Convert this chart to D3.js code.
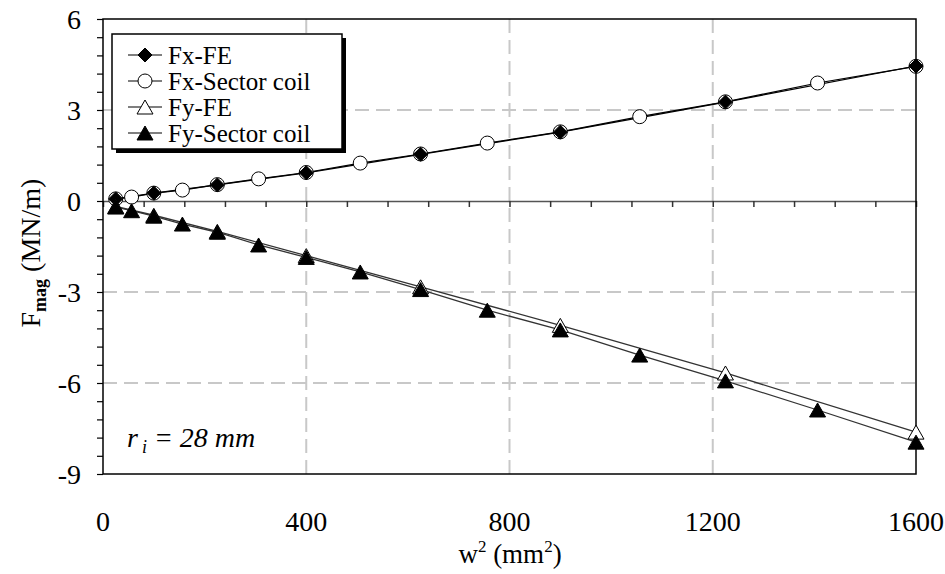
<!DOCTYPE html>
<html>
<head>
<meta charset="utf-8">
<script src="https://cdn.jsdelivr.net/npm/d3@7"></script>
<style>
  @font-face { font-family: "ChartSerif"; src: local("Liberation Serif"), local("LiberationSerif"), local("LiberationSerif-Regular"); }
  @font-face { font-family: "ChartSerif"; font-style: italic; src: local("Liberation Serif Italic"), local("LiberationSerif-Italic"); }
  @font-face { font-family: "ChartSerif"; font-weight: bold; src: local("Liberation Serif Bold"), local("LiberationSerif-Bold"); }
  body { margin: 0; background: #fff; }
</style>
</head>
<body>
<div id="plot"></div>
<script>
// ---- data ----
const wFE = [25, 100, 225, 400, 625, 900, 1225, 1600];
const wSector = [25, 56.25, 100, 156.25, 225, 306.25, 400, 506.25, 625, 756.25, 900, 1056.25, 1225, 1406.25, 1600];
const fxFE = [0.07, 0.26, 0.53, 0.93, 1.54, 2.27, 3.26, 4.45];
const fxSector = [0.07, 0.13, 0.26, 0.36, 0.54, 0.73, 0.94, 1.25, 1.55, 1.91, 2.28, 2.78, 3.27, 3.89, 4.44];
const fyFE = [-0.18, -0.47, -1.0, -1.8, -2.83, -4.1, -5.67, -7.62];
const fySector = [-0.2, -0.32, -0.5, -0.76, -1.03, -1.45, -1.86, -2.34, -2.92, -3.6, -4.25, -5.08, -5.93, -6.89, -7.95];
const seriesNames = ["Fx-FE", "Fx-Sector coil", "Fy-FE", "Fy-Sector coil"];
const xTicks = [0, 400, 800, 1200, 1600];
const yTicks = [-9, -6, -3, 0, 3, 6];
const xGrid = [400, 800, 1200];
const yGrid = [3, -3, -6];

const w = 945, h = 574;
const plotL = 103, plotR = 916, plotT = 19, plotB = 474;
const fontList = "'Liberation Serif', ChartSerif, Tinos, 'Times New Roman', serif";

const xScale = d3.scaleLinear().domain([0, 1600]).range([plotL, plotR]);
const yScale = d3.scaleLinear().domain([-9, 6]).range([plotB, plotT]);

const svg = d3.select("#plot").append("svg")
  .attr("width", w)
  .attr("height", h)
  .style("font-family", fontList);

// marker shapes, centred on their bounding box
const shapes = {
  diamond: "M0,-7L7,0L0,7L-7,0Z",
  triangle: "M0,-7L8,7L-8,7Z"
};

function label(sel, size) {
  return sel.style("font-family", fontList).style("font-size", size + "px");
}

// grid
svg.selectAll(".vgrid").data(xGrid).enter().append("line")
  .attr("x1", d => xScale(d)).attr("x2", d => xScale(d))
  .attr("y1", plotT).attr("y2", plotB)
  .attr("stroke", "#c8c8c8").attr("stroke-width", 2).attr("stroke-dasharray", "14,7");
svg.selectAll(".hgrid").data(yGrid).enter().append("line")
  .attr("x1", plotL).attr("x2", plotR)
  .attr("y1", d => yScale(d)).attr("y2", d => yScale(d))
  .attr("stroke", "#c8c8c8").attr("stroke-width", 2).attr("stroke-dasharray", "14,7");

// zero line with minor ticks (no labels)
const zeroAxis = d3.axisBottom(xScale)
  .tickValues(d3.range(0, 1601, 80))
  .tickSize(6)
  .tickSizeOuter(0);
const za = svg.append("g")
  .attr("transform", "translate(0," + yScale(0) + ")")
  .call(zeroAxis);
za.attr("font-family", null).attr("font-size", null);
za.selectAll("text").remove();
za.select(".domain").attr("stroke", "#555").attr("stroke-width", 1.5);
za.selectAll(".tick line").attr("stroke", "#333").attr("stroke-width", 1.5);

// left axis with ticks every 0.6 (no labels)
const yMinor = d3.range(0, 26).map(i => +(-9 + i * 0.6).toFixed(2));
const yAxis = d3.axisLeft(yScale)
  .tickValues(yMinor)
  .tickSize(6)
  .tickSizeOuter(0);
const ya = svg.append("g")
  .attr("transform", "translate(" + plotL + ",0)")
  .call(yAxis);
ya.attr("font-family", null).attr("font-size", null);
ya.selectAll("text").remove();
ya.select(".domain").remove();
ya.selectAll(".tick line").attr("stroke", "#000").attr("stroke-width", 1.2);

// frame
svg.append("rect")
  .attr("x", plotL).attr("y", plotT)
  .attr("width", plotR - plotL).attr("height", plotB - plotT)
  .attr("fill", "none").attr("stroke", "#000").attr("stroke-width", 1.5);

// tick labels
label(svg.selectAll(".ylab").data(yTicks).enter().append("text"), 28)
  .attr("x", 81).attr("y", d => yScale(d))
  .attr("dy", "0.35em")
  .attr("text-anchor", "end")
  .text(d => d);
label(svg.selectAll(".xlab").data(xTicks).enter().append("text"), 28)
  .attr("x", d => xScale(d)).attr("y", 531)
  .attr("text-anchor", "middle")
  .text(d => d);

// axis titles
const xt = label(svg.append("text"), 27)
  .attr("x", 510).attr("y", 563)
  .attr("text-anchor", "middle");
xt.append("tspan").text("w");
xt.append("tspan").attr("dy", -11).style("font-size", "17px").text("2");
xt.append("tspan").attr("dy", 11).text(" (mm");
xt.append("tspan").attr("dy", -11).style("font-size", "17px").text("2");
xt.append("tspan").attr("dy", 11).text(")");

const yt = label(svg.append("text"), 28)
  .attr("transform", "translate(40,253) rotate(-90)")
  .attr("text-anchor", "middle");
yt.append("tspan").text("F");
yt.append("tspan").attr("dy", 6).style("font-size", "18px").style("font-weight", "bold").text("mag");
yt.append("tspan").attr("dy", -6).text(" (MN/m)");

// annotation
const ann = label(svg.append("text"), 28)
  .attr("x", 127).attr("y", 447)
  .style("font-style", "italic");
ann.append("tspan").text("r");
ann.append("tspan").attr("dy", 6).attr("dx", 4).style("font-size", "18px").text("i");
ann.append("tspan").attr("dy", -6).text(" = 28 mm");

// ---- series ----
const line = d3.line().x(d => xScale(d[0])).y(d => yScale(d[1]));
const zip = (xs, ys) => xs.map((x, i) => [x, ys[i]]);

const dFxFE = zip(wFE, fxFE);
const dFxSector = zip(wSector, fxSector);
const dFyFE = zip(wFE, fyFE);
const dFySector = zip(wSector, fySector);

svg.append("path").datum(dFyFE).attr("d", line)
  .attr("fill", "none").attr("stroke", "#333").attr("stroke-width", 1.3);
svg.append("path").datum(dFySector).attr("d", line)
  .attr("fill", "none").attr("stroke", "#333").attr("stroke-width", 1.3);
svg.append("path").datum(dFxSector).attr("d", line)
  .attr("fill", "none").attr("stroke", "#000").attr("stroke-width", 1.2);
svg.append("path").datum(dFxFE).attr("d", line)
  .attr("fill", "none").attr("stroke", "#000").attr("stroke-width", 1.2);

// markers
svg.selectAll(".circ").data(dFxSector).enter().append("circle")
  .attr("cx", d => xScale(d[0])).attr("cy", d => yScale(d[1]))
  .attr("r", 7).attr("fill", "#fff").attr("stroke", "#000").attr("stroke-width", 1);
svg.selectAll(".diam").data(dFxFE).enter().append("path")
  .attr("transform", d => "translate(" + xScale(d[0]) + "," + yScale(d[1]) + ")")
  .attr("d", shapes.diamond).attr("fill", "#000").attr("stroke", "#000");
svg.selectAll(".otri").data(dFyFE).enter().append("path")
  .attr("transform", d => "translate(" + xScale(d[0]) + "," + yScale(d[1]) + ")")
  .attr("d", shapes.triangle).attr("fill", "#fff").attr("stroke", "#000").attr("stroke-width", 1);
svg.selectAll(".ftri").data(dFySector).enter().append("path")
  .attr("transform", d => "translate(" + xScale(d[0]) + "," + yScale(d[1]) + ")")
  .attr("d", shapes.triangle).attr("fill", "#000").attr("stroke", "#000");

// ---- legend ----
const lg = svg.append("g");
lg.append("rect").attr("x", 116).attr("y", 38).attr("width", 230).attr("height", 115).attr("fill", "#000");
lg.append("rect").attr("x", 112).attr("y", 34).attr("width", 230).attr("height", 115)
  .attr("fill", "#fff").attr("stroke", "#000").attr("stroke-width", 1.5);
const rows = [
  { name: seriesNames[0], shape: "diamond", fill: "#000" },
  { name: seriesNames[1], shape: "circle", fill: "#fff" },
  { name: seriesNames[2], shape: "triangle", fill: "#fff" },
  { name: seriesNames[3], shape: "triangle", fill: "#000" }
];
rows.forEach((r, i) => {
  const y = 55 + i * 26;
  lg.append("line").attr("x1", 128).attr("x2", 162).attr("y1", y).attr("y2", y)
    .attr("stroke", "#000").attr("stroke-width", 1.2);
  if (r.shape === "circle") {
    lg.append("circle").attr("cx", 145).attr("cy", y).attr("r", 7)
      .attr("fill", r.fill).attr("stroke", "#000");
  } else {
    lg.append("path").attr("transform", "translate(145," + y + ")")
      .attr("d", shapes[r.shape]).attr("fill", r.fill).attr("stroke", "#000");
  }
  label(lg.append("text"), 25).attr("x", 168).attr("y", y).attr("dy", "0.35em")
    .text(r.name);
});
</script>
</body>
</html>
